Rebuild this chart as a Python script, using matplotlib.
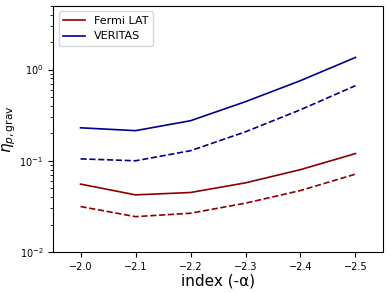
import matplotlib
matplotlib.use("Agg")
import matplotlib.pyplot as plt

index = [-2.0, -2.1, -2.2, -2.3, -2.4, -2.5]
fermi_solid = [0.0555, 0.0423, 0.0449, 0.0573, 0.080, 0.120]
fermi_dashed = [0.0315, 0.0244, 0.0266, 0.0343, 0.0472, 0.0714]
veritas_solid = [0.230, 0.214, 0.275, 0.445, 0.757, 1.36]
veritas_dashed = [0.105, 0.100, 0.129, 0.208, 0.363, 0.667]

fig = plt.figure(figsize=(3.9, 2.93), dpi=100)
ax = fig.add_axes([0.136, 0.14, 0.846, 0.84])
ax.plot(index, fermi_solid, color="#8B0000", lw=1.2, label="Fermi LAT")
ax.plot(index, veritas_solid, color="#00008B", lw=1.2, label="VERITAS")
ax.plot(index, fermi_dashed, color="#8B0000", lw=1.2, ls="--")
ax.plot(index, veritas_dashed, color="#00008B", lw=1.2, ls="--")
ax.set_yscale("log")
ax.set_ylim(1e-2, 5)
ax.set_xlim(-1.95, -2.55)
ax.set_xticks(index)
ax.tick_params(labelsize=7)
ax.set_xlabel("index (-α)", fontsize=11, labelpad=1)
ax.set_ylabel(r"$\eta_{p,\mathrm{grav}}$", fontsize=11, labelpad=1)
ax.legend(loc="upper left", fontsize=8)
fig.savefig("out.png", dpi=100)
